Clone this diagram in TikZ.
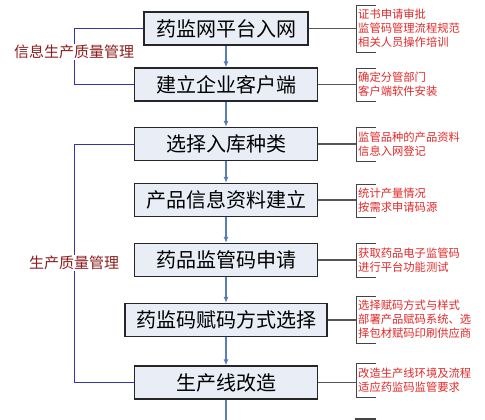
\documentclass[tikz,border=0pt]{standalone}
\usepackage{fontspec}
\newfontfamily\cjk{Noto Sans CJK SC}
\usetikzlibrary{arrows.meta}

\definecolor{boxfill}{RGB}{232,237,246}
\definecolor{flowblue}{RGB}{88,126,184}
\definecolor{brackblue}{RGB}{52,52,170}
\definecolor{noteRed}{RGB}{226,40,40}
\definecolor{groupRed}{RGB}{140,30,30}
\definecolor{noteGray}{RGB}{85,85,85}

\tikzset{
	stepbox/.style={draw=black!85, line width=1.3pt, fill=boxfill, font=\cjk\fontsize{20}{22}\selectfont,
		minimum width=183pt, minimum height=33pt, inner sep=0pt},
	flow/.style={draw=flowblue, line width=1.1pt, -{Latex[length=6pt,width=5pt]}},
	notetext/.style={text=noteRed, font=\cjk\fontsize{11.3}{14}\selectfont, align=left, anchor=west, inner sep=0pt},
	notelink/.style={draw=noteGray, line width=1.2pt},
	notebrack/.style={draw=noteGray!80!black, line width=0.9pt},
	grouplink/.style={draw=brackblue, line width=1pt},
	grouptext/.style={text=groupRed, fill=white, font=\cjk\fontsize{15}{17}\selectfont, inner sep=1pt}
}

\begin{document}
\begin{tikzpicture}[x=1pt,y=-1pt]
	
	% Parameters
	\def\cx{226}       % centre of the flow
	\def\bx{356}       % bracket line of the notes
	\def\tick{20}      % length of the bracket ticks
	
	\useasboundingbox (0,0) rectangle (485,420);
	\clip (0,0) rectangle (485,420);
	
	% Flow boxes
	\node[stepbox, minimum width=164pt] (net)    at (\cx,28.5)  {药监网平台入网};
	\node[stepbox] (client) at (\cx,84.5)  {建立企业客户端};
	\node[stepbox] (kind)   at (\cx,144)   {选择入库种类};
	\node[stepbox] (info)   at (\cx,200)   {产品信息资料建立};
	\node[stepbox] (apply)  at (\cx,260)   {药品监管码申请};
	\node[stepbox, minimum width=202pt] (code) at (\cx,320) {药监码赋码方式选择};
	\node[stepbox] (line)   at (\cx,382.5) {生产线改造};
	\coordinate (down) at (\cx,421);
	
	% Arrows
	\draw[flow] (net) -- (client);
	\draw[flow] (client) -- (kind);
	\draw[flow] (kind) -- (info);
	\draw[flow] (info) -- (apply);
	\draw[flow] (apply) -- (code);
	\draw[flow] (code) -- (line);
	\draw[flow, -] (line) -- (down);
	
	% Notes on the right: link, bracket, text
	\foreach \stepname/\ya/\yb/\notes in {
		net/5/52/{证书申请审批\\监管码管理流程规范\\相关人员操作培训},
		client/68/101/{确定分管部门\\客户端软件安装},
		kind/127/161/{监管品种的产品资料\\信息入网登记},
		info/184/217/{统计产量情况\\按需求申请码源},
		apply/243/277/{获取药品电子监管码\\进行平台功能测试},
		code/296/343/{选择赋码方式与样式\\部署产品赋码系统、选\\择包材赋码印刷供应商},
		line/363/397/{改造生产线环境及流程\\适应药监码监管要求}}{
		\coordinate (\stepname-b) at (\bx,0 |- \stepname.east);
		\draw[notelink] (\stepname.east) -- (\stepname-b);
		\draw[notebrack] (\bx+\tick,\ya) -- (\bx,\ya) -- (\bx,\yb) -- (\bx+\tick,\yb);
		\node[notetext] (\stepname-note) at (\bx+2,{(\ya+\yb)/2}) {\notes};
	}
	% next bracket, cut by the lower edge
	\draw[notebrack, line width=1.6pt] (\bx+\tick,419) -- (\bx,419) -- (\bx,425);
	
	% Groups on the left
	\coordinate (g1) at (74,0 |- net.west);
	\coordinate (g2) at (74,0 |- client.west);
	\draw[grouplink] (net.west) -- (g1) -- (g2) -- (client.west);
	\node[grouptext] (infogroup) at (74,52) {信息生产质量管理};
	
	\coordinate (g3) at (74,0 |- kind.west);
	\coordinate (g4) at (74,0 |- line.west);
	\draw[grouplink] (kind.west) -- (g3) -- (g4) -- (line.west);
	\node[grouptext] (prodgroup) at (74,263) {生产质量管理};
	
\end{tikzpicture}
\end{document}
